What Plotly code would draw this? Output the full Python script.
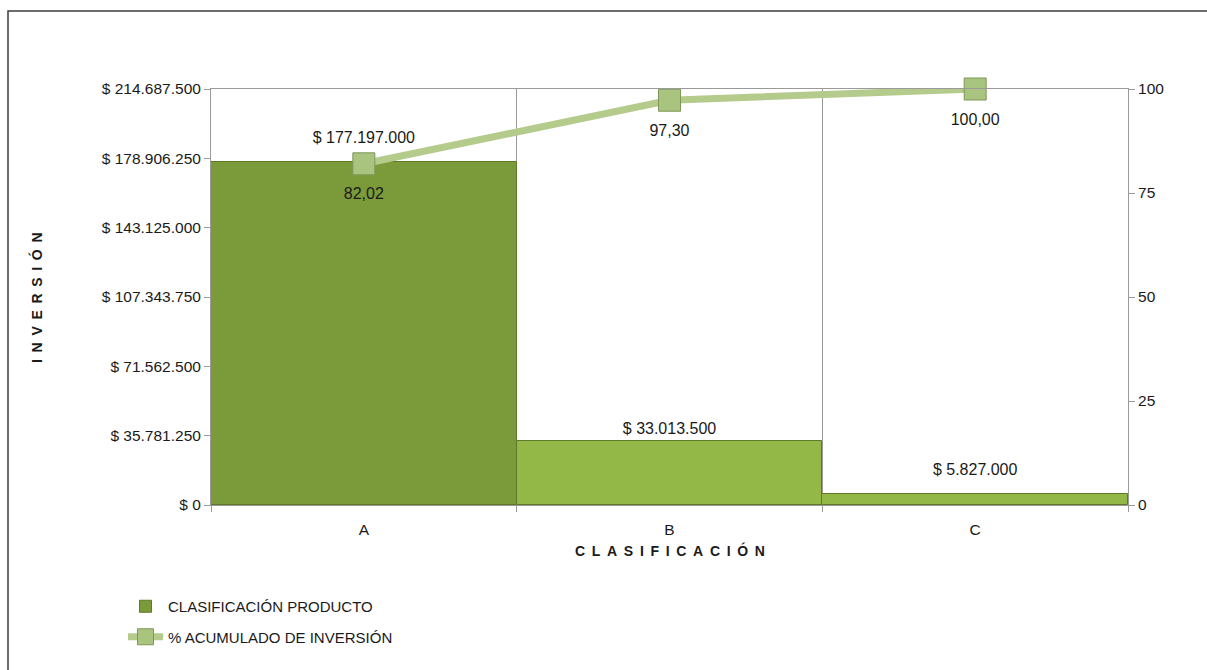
import plotly.graph_objects as go

# Categories and values
categories = ["A", "B", "C"]
inversion = [177197000, 33013500, 5827000]
pct_acumulado = [82.02, 97.30, 100.00]

# Styling per bar / per label
bar_colors = ["#7b9b3b", "#93b848", "#93b848"]
bar_label_pad = [22, 4, 22]

y_max = 214687500
y_step = 35781250

W, H = 1207, 670
L, R, T, B = 211, 79, 89, 165
plot_w = W - L - R
plot_h = H - T - B

FONT = "Liberation Sans, Arial, sans-serif"
TXT = "#1a1a1a"


def px_x(px):
    return (px - L) / plot_w


def px_y(py):
    return (H - B - py) / plot_h


def spaced(word):
    return "\u00a0\u2009".join(word)


xs = list(range(len(categories)))

fig = go.Figure()

fig.add_trace(go.Bar(
    x=xs,
    y=inversion,
    name="CLASIFICACIÓN PRODUCTO",
    legendgroup="bar",
    marker=dict(color=bar_colors, line=dict(color="#5e7a28", width=1)),
    width=1.0,
    hoverinfo="y",
))

# value labels above bars
fig.add_trace(go.Scatter(
    x=xs,
    y=inversion,
    mode="markers+text",
    marker=dict(size=bar_label_pad, opacity=0),
    texttemplate="$ %{y:,d}",
    textposition="top center",
    textfont=dict(family=FONT, size=16, color=TXT),
    showlegend=False,
    hoverinfo="skip",
    cliponaxis=False,
))

fig.add_trace(go.Scatter(
    x=xs,
    y=pct_acumulado,
    name="% ACUMULADO DE INVERSIÓN",
    legendgroup="line",
    yaxis="y2",
    mode="lines+markers",
    line=dict(color="#b4cb8c", width=7),
    marker=dict(symbol="square", size=22, color="#a9c47f",
                line=dict(color="#7f9658", width=1)),
    cliponaxis=False,
))

# percentage labels under the markers
fig.add_trace(go.Scatter(
    x=xs,
    y=pct_acumulado,
    yaxis="y2",
    mode="markers+text",
    marker=dict(size=36, opacity=0),
    texttemplate="%{y:.2f}",
    textposition="bottom center",
    textfont=dict(family=FONT, size=16, color=TXT),
    showlegend=False,
    hoverinfo="skip",
    cliponaxis=False,
))

tick_font = dict(family=FONT, size=15.5, color=TXT)

fig.update_layout(
    width=W,
    height=H,
    margin=dict(l=L, r=R, t=T, b=B),
    paper_bgcolor="white",
    plot_bgcolor="white",
    separators=",.",
    bargap=0,
    showlegend=True,
    legend=dict(
        x=px_x(123), y=px_y(590), xanchor="left", yanchor="top",
        orientation="v",
        font=dict(family=FONT, size=15, color=TXT),
        itemwidth=35,
        tracegroupgap=8,
        bgcolor="rgba(0,0,0,0)",
    ),
    xaxis=dict(
        range=[-0.5, len(categories) - 0.5],
        tickmode="array",
        tickvals=xs,
        ticktext=categories,
        ticks="",
        ticklabelstandoff=10,
        tickfont=tick_font,
        showgrid=False,
        showline=True,
        linecolor="#9a9a9a",
        linewidth=1,
        mirror=True,
        zeroline=False,
        minor=dict(
            tickmode="array",
            tickvals=[i - 0.5 for i in range(len(categories) + 1)],
            ticks="outside",
            ticklen=6,
            tickcolor="#9a9a9a",
            showgrid=True,
            gridcolor="#9a9a9a",
            gridwidth=1,
        ),
    ),
    yaxis=dict(
        range=[0, y_max],
        tick0=0,
        dtick=y_step,
        tickprefix="$ ",
        tickformat=",d",
        ticks="outside",
        ticklen=6,
        tickcolor="#9a9a9a",
        tickfont=tick_font,
        showgrid=False,
        showline=True,
        linecolor="#9a9a9a",
        zeroline=False,
    ),
    yaxis2=dict(
        range=[0, 100],
        overlaying="y",
        side="right",
        tick0=0,
        dtick=25,
        ticks="outside",
        ticklen=6,
        tickcolor="#9a9a9a",
        tickfont=tick_font,
        showgrid=False,
        showline=True,
        linecolor="#9a9a9a",
        zeroline=False,
    ),
    annotations=[
        dict(text="<b>" + spaced("INVERSIÓN") + "</b>", xref="paper", yref="paper",
             x=px_x(36), y=px_y(298), xanchor="center", yanchor="middle",
             textangle=-90, showarrow=False,
             font=dict(family=FONT, size=14, color=TXT)),
        dict(text="<b>" + spaced("CLASIFICACIÓN") + "</b>", xref="paper", yref="paper",
             x=0.5, y=px_y(550), xanchor="center", yanchor="middle",
             showarrow=False,
             font=dict(family=FONT, size=14, color=TXT)),
    ],
    shapes=[
        # chart-area frame
        dict(type="rect", xref="paper", yref="paper", layer="below",
             x0=px_x(8), x1=px_x(1212), y0=px_y(680), y1=px_y(11),
             line=dict(color="#3c3c3c", width=1.5), fillcolor="rgba(0,0,0,0)"),
    ],
)

fig.write_html("out.html")
